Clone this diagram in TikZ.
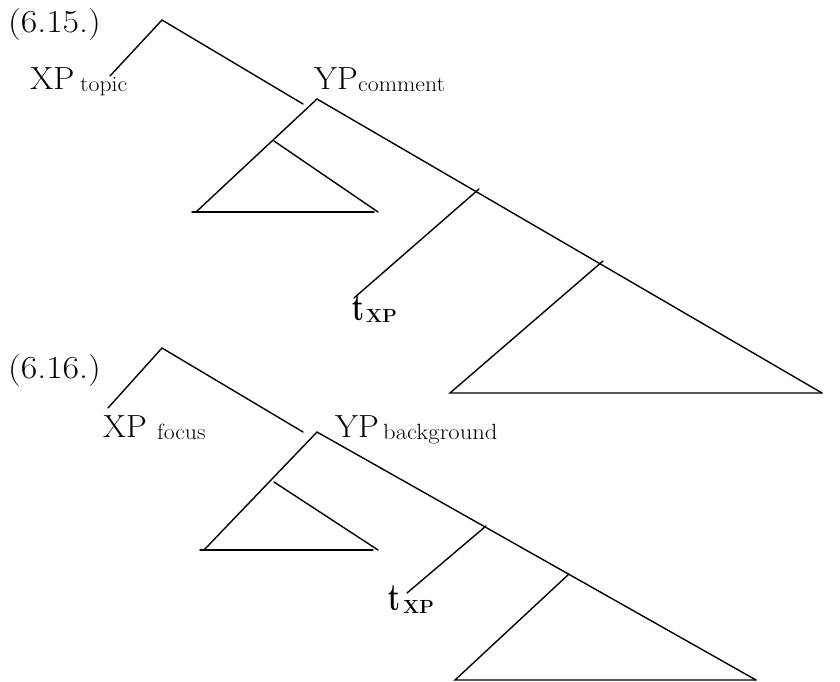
\documentclass[tikz,border=0pt]{standalone}
\usepackage{graphicx}
\newcommand{\sx}[2]{\scalebox{#1}[1]{#2}}
\tikzset{
  br/.style={line width=1.4pt, line cap=round},
  big/.style={font=\fontsize{32}{36}\selectfont, inner sep=0pt, anchor=base west},
  sub/.style={font=\fontsize{22}{26}\selectfont, inner sep=0pt, anchor=base west},
  tt/.style={font=\fontsize{39}{42}\selectfont\bfseries, inner sep=0pt, anchor=base west},
  ttsub/.style={font=\fontsize{19}{22}\selectfont\bfseries, inner sep=0pt, anchor=base west}
}
\begin{document}
\begin{tikzpicture}[x=1pt,y=-1pt]
\useasboundingbox (0,0) rectangle (840,682);
% ---------- (6.15.) ----------
\node[big] (ex1) at (8,33) {\sx{1.12}{(6.15.)}};
\node[big] (xp1) at (30,90) {\sx{1.05}{XP}};
\node[sub] (xp1s) at (80,92) {\sx{1.08}{topic}};
\node[big] (yp1l) at (314,90) {\sx{1.03}{YP}};
\node[sub] (yp1s) at (358,92) {\sx{1.08}{comment}};
\node[tt] (t1) at (352,320) {\sx{0.7}{t}};
\node[ttsub] (t1s) at (366,322) {XP};

\coordinate (r1) at (162,20);
\coordinate (x1e) at (110,76);
\coordinate (r1r) at (303,104);
\coordinate (y1) at (317,99);
\coordinate (s1L) at (196,212);
\coordinate (s1m) at (274,141);
\coordinate (s1R) at (378,212);
\coordinate (s1a) at (192,212);
\coordinate (s1b) at (374,212);
\coordinate (B1R) at (822,393);
\coordinate (b1) at (479,189);
\coordinate (t1e) at (354,298);
\coordinate (c1) at (603,261);
\coordinate (B1L) at (450,393);

\draw[br] (x1e) -- (r1) -- (r1r);
\draw[br] (s1L) -- (y1) -- (B1R);
\draw[br] (s1m) -- (s1R);
\draw[br] (s1a) -- (s1b);
\draw[br] (b1) -- (t1e);
\draw[br] (c1) -- (B1L) -- (B1R);

% ---------- (6.16.) ----------
\node[big] (ex2) at (8,378) {\sx{1.12}{(6.16.)}};
\node[big] (xp2) at (103,437) {\sx{1.03}{XP}};
\node[sub] (xp2s) at (157,439) {\sx{1.08}{focus}};
\node[big] (yp2l) at (335,437) {\sx{1.03}{YP}};
\node[sub] (yp2s) at (383,439) {\sx{1.12}{background}};
\node[tt] (t2) at (388,610) {\sx{0.7}{t}};
\node[ttsub] (t2s) at (403,613) {XP};

\coordinate (r2) at (162,348);
\coordinate (x2e) at (108,408);
\coordinate (r2r) at (303,432);
\coordinate (y2) at (317,432);
\coordinate (s2L) at (204,550);
\coordinate (s2m) at (274,482);
\coordinate (s2R) at (378,550);
\coordinate (s2a) at (200,550);
\coordinate (s2b) at (373,550);
\coordinate (B2R) at (756,680);
\coordinate (b2) at (486,526);
\coordinate (t2e) at (407,593);
\coordinate (c2) at (569,574);
\coordinate (B2L) at (455,680);

\draw[br] (x2e) -- (r2) -- (r2r);
\draw[br] (s2L) -- (y2) -- (B2R);
\draw[br] (s2m) -- (s2R);
\draw[br] (s2a) -- (s2b);
\draw[br] (b2) -- (t2e);
\draw[br] (c2) -- (B2L) -- (B2R);
\end{tikzpicture}
\end{document}
